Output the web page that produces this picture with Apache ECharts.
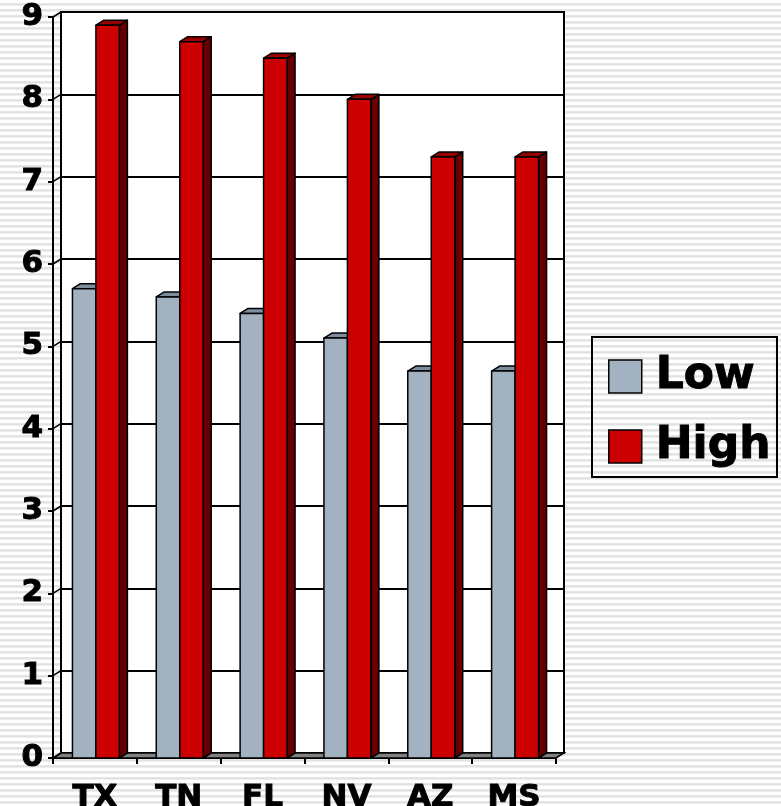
<!DOCTYPE html>
<html>
<head>
<meta charset="utf-8">
<script src="https://cdn.jsdelivr.net/npm/echarts@6/dist/echarts.min.js"></script>
<style>
  html, body { margin: 0; padding: 0; }
  body {
    width: 781px; height: 806px; overflow: hidden;
    background: repeating-linear-gradient(to bottom, #ffffff 0px, #ffffff 3px, #e9e9e9 3px, #dedede 5px, #ffffff 6px);
  }
  #chart { width: 781px; height: 806px; }
</style>
</head>
<body>
<div id="chart"></div>
<script>
const categories = ['TX', 'TN', 'FL', 'NV', 'AZ', 'MS'];
const lowValues = [5.7, 5.6, 5.4, 5.1, 4.7, 4.7];
const highValues = [8.9, 8.7, 8.5, 8.0, 7.3, 7.3];
const yTicks = [0, 1, 2, 3, 4, 5, 6, 7, 8, 9];

const DX = 8, DY = 5;
const FONT = 'DejaVu Sans';

function barRenderer(side, front, topC, sideC) {
  return function (params, api) {
    const idx = api.value(0), v = api.value(1);
    const base = api.coord([idx, 0]);
    const top = api.coord([idx, v]);
    const band = api.size([1, 0])[0];
    const w = band * 0.28;
    const cx = base[0] + 1;
    const x0 = side < 0 ? cx - w : cx;
    const yT = top[1], yB = base[1];
    const stroke = { stroke: '#000', lineWidth: 1.5, lineJoin: 'round' };
    return {
      type: 'group',
      children: [
        { type: 'polygon', shape: { points: [[x0 + w, yT], [x0 + w + DX, yT - DY], [x0 + w + DX, yB - DY], [x0 + w, yB]] },
          style: Object.assign({ fill: sideC }, stroke) },
        { type: 'polygon', shape: { points: [[x0, yT], [x0 + w, yT], [x0 + w + DX, yT - DY], [x0 + DX, yT - DY]] },
          style: Object.assign({ fill: topC }, stroke) },
        { type: 'rect', shape: { x: x0, y: yT, width: w, height: yB - yT },
          style: Object.assign({ fill: front }, stroke) }
      ]
    };
  };
}

function decorRenderer(params, api) {
  const cs = params.coordSys;
  const x0 = cs.x, x1 = cs.x + cs.width;
  const yB = api.coord([0, 0])[1];
  const children = [];
  children.push({
    type: 'polygon',
    shape: { points: [[x0, yB], [x1, yB], [x1 + DX, yB - DY], [x0 + DX, yB - DY]] },
    style: { fill: '#808080', stroke: '#000', lineWidth: 1.5 }
  });
  yTicks.forEach(function (t) {
    const y = api.coord([0, t])[1];
    children.push({
      type: 'line',
      shape: { x1: x0, y1: y, x2: x0 + DX, y2: y - DY },
      style: { stroke: '#000', lineWidth: 1.5 }
    });
  });
  return { type: 'group', children: children };
}

const chart = echarts.init(document.getElementById('chart'), null, { renderer: 'canvas' });

const labelStyle = { color: '#000', fontFamily: FONT, fontWeight: 'bold', textBorderColor: '#000', textBorderWidth: 1 };

const option = {
  animation: false,
  backgroundColor: 'transparent',
  grid: [
    { left: 53, top: 17, width: 503, height: 741, containLabel: false, outerBoundsMode: 'none' },
    { left: 61, top: 12, width: 503, height: 741, containLabel: false, outerBoundsMode: 'none', show: true,
      backgroundColor: '#ffffff', borderColor: '#000', borderWidth: 2, z: 0 }
  ],
  xAxis: [
    { type: 'category', gridIndex: 0, data: categories, boundaryGap: true,
      axisLine: { lineStyle: { color: '#000', width: 2 } },
      axisTick: { show: true, length: 6, alignWithLabel: false, lineStyle: { color: '#000', width: 2 } },
      axisLabel: Object.assign({ fontSize: 31, margin: 24 }, labelStyle),
      splitLine: { show: false } },
    { type: 'category', gridIndex: 1, data: categories, show: false }
  ],
  yAxis: [
    { type: 'value', gridIndex: 0, min: 0, max: 9, interval: 1,
      axisLine: { show: true, lineStyle: { color: '#000', width: 2 } },
      axisTick: { show: true, length: 5, lineStyle: { color: '#000', width: 2 } },
      axisLabel: Object.assign({ fontSize: 31, margin: 10, padding: [7, 0, 0, 0] }, labelStyle),
      splitLine: { show: false } },
    { type: 'value', gridIndex: 1, min: 0, max: 9, interval: 1,
      axisLine: { show: false }, axisTick: { show: false }, axisLabel: { show: false },
      splitLine: { show: true, lineStyle: { color: '#000', width: 2 } } }
  ],
  legend: {
    data: ['Low', 'High'],
    orient: 'vertical',
    left: 592, top: 337,
    padding: [17, 6, 8, 16],
    itemWidth: 33, itemHeight: 33, itemGap: 25,
    icon: 'rect',
    borderColor: '#000', borderWidth: 2,
    backgroundColor: 'transparent',
    itemStyle: { borderColor: '#000', borderWidth: 1.5 },
    textStyle: { color: '#000', fontFamily: FONT, fontWeight: 'bold', fontSize: 44, lineHeight: 42,
      padding: [0, 0, 0, 9], textBorderColor: '#000', textBorderWidth: 1 }
  },
  series: [
    { name: 'decor', type: 'custom', xAxisIndex: 0, yAxisIndex: 0, z: 1,
      renderItem: decorRenderer, data: [[0, 0]], silent: true },
    { name: 'Low', type: 'custom', xAxisIndex: 0, yAxisIndex: 0, z: 2,
      itemStyle: { color: '#a3b2c1' },
      renderItem: barRenderer(-1, '#a3b2c1', '#7e8d9c', '#6b7885'),
      data: lowValues.map(function (v, i) { return [i, v]; }) },
    { name: 'High', type: 'custom', xAxisIndex: 0, yAxisIndex: 0, z: 3,
      itemStyle: { color: '#cc0000' },
      renderItem: barRenderer(1, '#cc0000', '#990000', '#660000'),
      data: highValues.map(function (v, i) { return [i, v]; }) }
  ]
};
chart.setOption(option);
</script>
</body>
</html>
